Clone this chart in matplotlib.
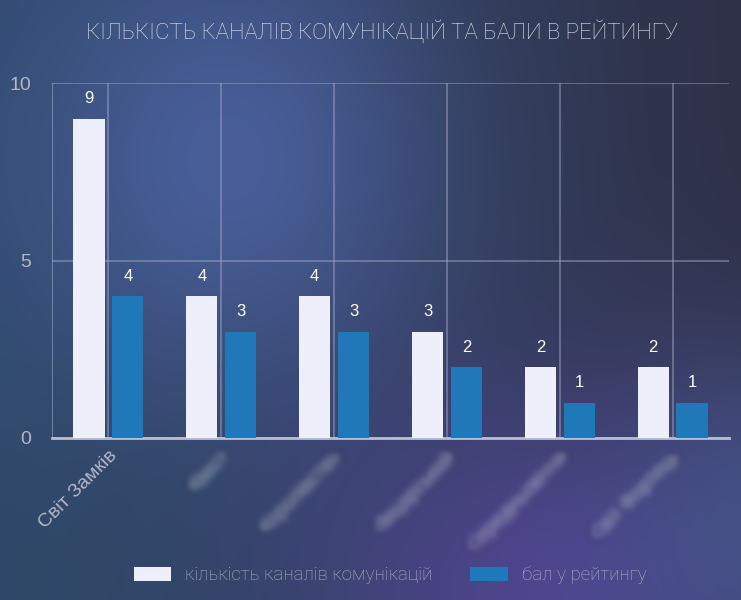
import numpy as np
import matplotlib
matplotlib.use("Agg")
import matplotlib.pyplot as plt
from matplotlib.patches import Patch
from matplotlib.colors import to_rgb

# data
categories = ["Світ Замків", "Квест", "Королівство", "Лицарський", "Середньовіччя", "Світ Фортець"]
channels = [9, 4, 4, 3, 2, 2]
rating = [4, 3, 3, 2, 1, 1]
yticks = [0, 5, 10]
title = "КІЛЬКІСТЬ КАНАЛІВ КОМУНІКАЦІЙ ТА БАЛИ В РЕЙТИНГУ"
series_names = ["кількість каналів комунікацій", "бал у рейтингу"]

W, H = 741, 600
WHITE_BAR = "#efeffc"
BLUE_BAR = "#1f78b8"
GRID = "#a3a8c4"
TICK = "#b3b6c9"

plt.rcParams["font.family"] = ["Liberation Sans", "DejaVu Sans"]


def background():
    yy, xx = np.mgrid[0:H, 0:W].astype(float)
    left = np.array(to_rgb("#30496b"))
    right = np.array(to_rgb("#2f3148"))
    t = np.clip(xx / W, 0, 1)[..., None]
    img = left * (1 - t) + right * t

    def glow(img, cx, cy, sx, sy, col, a):
        w = a * np.exp(-((xx - cx) ** 2 / (2 * sx ** 2) + (yy - cy) ** 2 / (2 * sy ** 2)))
        w = w[..., None]
        return img * (1 - w) + np.array(to_rgb(col)) * w

    img = glow(img, 230, 160, 150, 170, "#4d63a3", 0.85)
    img = glow(img, 570, 590, 200, 140, "#524795", 0.9)
    img = glow(img, 760, 520, 100, 120, "#45598f", 0.7)
    img = glow(img, 40, 560, 160, 120, "#2e4866", 0.5)
    return img


def blur_filter(sigma):
    def f(im, dpi):
        pad = int(sigma * 3)
        a = np.pad(im, ((pad, pad), (pad, pad), (0, 0)))
        k = np.arange(-pad, pad + 1)
        k = np.exp(-k ** 2 / (2 * sigma ** 2))
        k /= k.sum()
        for ax_ in (0, 1):
            a = np.apply_along_axis(lambda m: np.convolve(m, k, mode="same"), ax_, a)
        return a, -pad, -pad
    return f


fig = plt.figure(figsize=(W / 100, H / 100), dpi=100)
bg = fig.add_axes([0, 0, 1, 1])
bg.imshow(background(), aspect="auto", extent=(0, 1, 0, 1))
bg.axis("off")

ax = fig.add_axes([52 / W, 1 - 438 / H, 677 / W, 355 / H])
ax.patch.set_alpha(0)
x = np.arange(len(categories))
bw = 0.275
off = 0.172
b1 = ax.bar(x - off, channels, bw, color=WHITE_BAR, zorder=3)
b2 = ax.bar(x + off, rating, bw, color=BLUE_BAR, zorder=3)
for bars in (b1, b2):
    for r in bars:
        ax.text(r.get_x() + r.get_width() / 2, r.get_height() + 0.35, f"{r.get_height():.0f}",
                ha="center", va="bottom", color="white", fontsize=12, zorder=4)

ax.set_xlim(-0.5, 5.5)
ax.set_ylim(0, 10)
ax.set_yticks(yticks)
ax.set_xticks(x)
ax.grid(True, color=GRID, alpha=0.55, lw=1.2, zorder=1)
for s in ("top", "right"):
    ax.spines[s].set_visible(False)
ax.spines["left"].set_color(GRID)
ax.spines["left"].set_alpha(0.55)
ax.spines["bottom"].set_color("#b9bdd2")
ax.spines["bottom"].set_linewidth(2)
ax.tick_params(axis="both", length=0, colors=TICK, labelsize=14)
ax.tick_params(axis="y", pad=15)
ax.set_xticklabels(categories, rotation=45, ha="right", rotation_mode="anchor")
for i, lab in enumerate(ax.get_xticklabels()):
    lab.set_y(-0.012)
    if i > 0:
        lab.set_agg_filter(blur_filter(3.5))
        lab.set_alpha(0.8)

fig.text(382 / W, 1 - 32 / H, title, ha="center", va="center", color="#e4e6f0",
         fontsize=16, family=["Roboto", "DejaVu Sans"], fontweight="light")

handles = [Patch(facecolor=WHITE_BAR, edgecolor="none"), Patch(facecolor=BLUE_BAR, edgecolor="none")]
leg = fig.legend(handles, series_names, loc="center", bbox_to_anchor=(390 / W, 1 - 575 / H), ncol=2,
                 frameon=False, handlelength=2.0, handleheight=0.8, handletextpad=0.75, columnspacing=2.0,
                 prop={"family": ["Roboto", "DejaVu Sans"], "weight": "light", "size": 13.5})
for t in leg.get_texts():
    t.set_color("#aeb1c6")

fig.savefig("out.png", dpi=100)
